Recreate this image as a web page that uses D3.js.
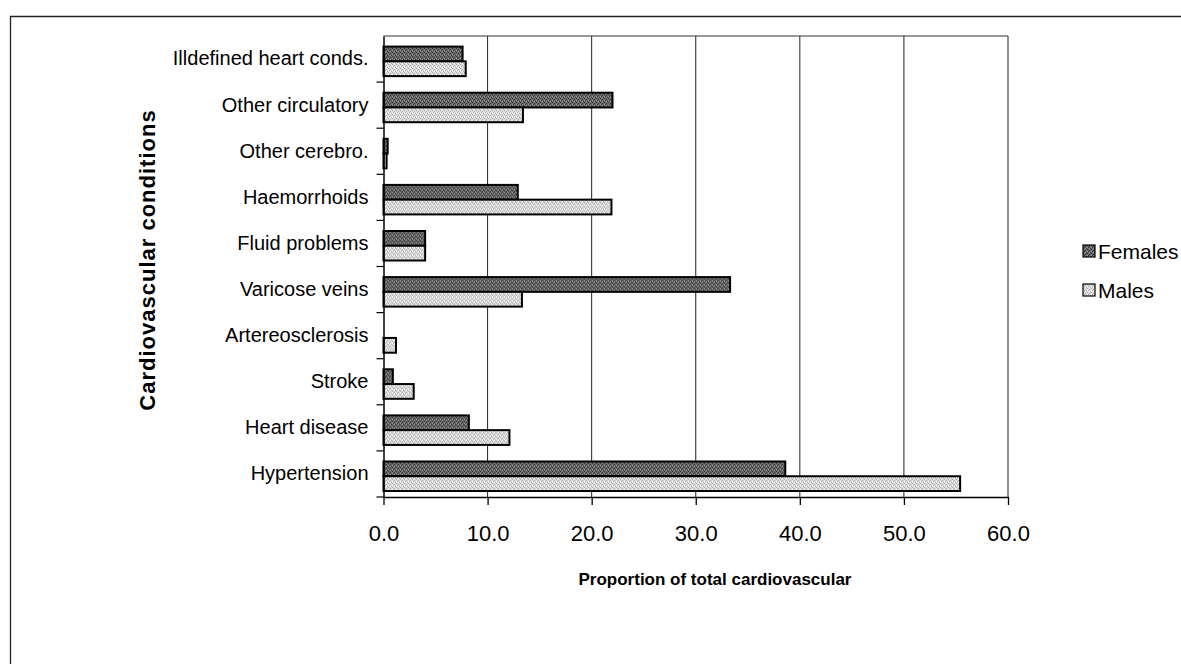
<!DOCTYPE html>
<html>
<head>
<meta charset="utf-8">
<script src="https://cdn.jsdelivr.net/npm/d3@7"></script>
<style>
  html, body { margin: 0; padding: 0; background: #fff; }
  svg { display: block; font-family: Arial, "Liberation Sans", sans-serif; }
</style>
</head>
<body>
<svg id="chart" width="1181" height="664"></svg>
<script>
// Cardiovascular conditions, share of total cardiovascular (%), by sex
const categories = [
  "Illdefined heart conds.",
  "Other circulatory",
  "Other cerebro.",
  "Haemorrhoids",
  "Fluid problems",
  "Varicose veins",
  "Artereosclerosis",
  "Stroke",
  "Heart disease",
  "Hypertension"
];
const series = ["Females", "Males"];
const females = [7.6, 22.0, 0.4, 12.9, 4.0, 33.3, 0.0, 0.9, 8.2, 38.6];
const males   = [7.9, 13.4, 0.3, 21.9, 4.0, 13.3, 1.2, 2.9, 12.1, 55.4];
const xTicks = [0, 10, 20, 30, 40, 50, 60];

const svg = d3.select("#chart");

// stipple fills for the two series
const defs = svg.append("defs");
function stipple(id, base, dot, dot2) {
  const p = defs.append("pattern")
    .attr("id", id).attr("patternUnits", "userSpaceOnUse")
    .attr("width", 4).attr("height", 4);
  p.append("rect").attr("width", 4).attr("height", 4).attr("fill", base);
  [[0,0],[2,1],[1,2],[3,3]].forEach(([x, y]) =>
    p.append("rect").attr("x", x).attr("y", y).attr("width", 1).attr("height", 1).attr("fill", dot));
  [[2,3],[0,2]].forEach(([x, y]) =>
    p.append("rect").attr("x", x).attr("y", y).attr("width", 1).attr("height", 1).attr("fill", dot2));
}
stipple("fillF", "#6c6c6c", "#2e2e2e", "#9c9c9c");
stipple("fillM", "#e0e0e0", "#a4a4a4", "#ffffff");
const fills = { Females: "url(#fillF)", Males: "url(#fillM)" };

// outer frame (runs off the right and bottom edges)
svg.append("path")
  .attr("d", "M10.5,670 L10.5,16.5 L1190,16.5")
  .attr("fill", "none").attr("stroke", "#222").attr("stroke-width", 1.3);

const plot = { left: 383.5, right: 1008, top: 36, bottom: 497 };

const x = d3.scaleLinear().domain([0, 60]).range([plot.left, plot.right]);
const y = d3.scaleBand().domain(categories).range([plot.top, plot.bottom]);
const bw = y.bandwidth();
const sub = d3.scaleBand().domain(series).range([bw * 0.23, bw * 0.87]);

// vertical gridlines
svg.append("g").selectAll("line")
  .data(xTicks.slice(1))
  .join("line")
  .attr("x1", d => x(d)).attr("x2", d => x(d))
  .attr("y1", plot.top).attr("y2", plot.bottom)
  .attr("stroke", "#222").attr("stroke-width", 1);

// top border of plot area
svg.append("line")
  .attr("x1", plot.left).attr("x2", plot.right)
  .attr("y1", plot.top).attr("y2", plot.top)
  .attr("stroke", "#333").attr("stroke-width", 1);

// bars
const rows = categories.map((c, i) => ({ c, Females: females[i], Males: males[i] }));
const groups = svg.append("g").selectAll("g")
  .data(rows).join("g")
  .attr("transform", d => `translate(0,${y(d.c)})`);
groups.selectAll("rect")
  .data(d => series.map(s => ({ s, v: d[s] })).filter(e => e.v > 0))
  .join("rect")
  .attr("x", x(0))
  .attr("y", d => sub(d.s))
  .attr("width", d => x(d.v) - x(0))
  .attr("height", sub.bandwidth())
  .attr("fill", d => fills[d.s])
  .attr("stroke", "#000").attr("stroke-width", 2);

// x axis
const xAxis = svg.append("g")
  .attr("transform", `translate(0,${plot.bottom})`)
  .call(d3.axisBottom(x).tickValues(xTicks).tickFormat(d3.format(".1f")).tickSize(8).tickSizeOuter(0));
xAxis.select(".domain").attr("stroke", "#000").attr("stroke-width", 1.5);
xAxis.selectAll(".tick line").attr("stroke", "#000").attr("stroke-width", 1.3);
xAxis.selectAll(".tick text")
  .attr("font-size", 22).attr("fill", "#000").attr("dy", 0).attr("y", 44)
  .attr("font-family", "Arial, 'Liberation Sans', sans-serif");

// y axis
const yAxis = svg.append("g")
  .attr("transform", `translate(${plot.left},0)`)
  .call(d3.axisLeft(y).tickSize(0).tickPadding(15).tickSizeOuter(0));
yAxis.select(".domain").attr("stroke", "#000").attr("stroke-width", 1.5);
yAxis.selectAll(".tick text")
  .attr("font-size", 20).attr("fill", "#000")
  .attr("font-family", "Arial, 'Liberation Sans', sans-serif");
// category boundary ticks
svg.append("g").selectAll("line")
  .data(categories)
  .join("line")
  .attr("x1", plot.left - 7).attr("x2", plot.left)
  .attr("y1", d => y(d) + bw).attr("y2", d => y(d) + bw)
  .attr("stroke", "#000").attr("stroke-width", 1.2);

// axis titles
svg.append("text")
  .attr("x", 715).attr("y", 585)
  .attr("text-anchor", "middle")
  .attr("font-size", 17).attr("font-weight", "bold")
  .text("Proportion of total cardiovascular");

svg.append("text")
  .attr("transform", "translate(155,260) rotate(-90)")
  .attr("text-anchor", "middle")
  .attr("font-size", 22).attr("font-weight", "bold")
  .attr("letter-spacing", 1)
  .text("Cardiovascular conditions");

// legend
const legend = svg.append("g");
series.forEach((s, i) => {
  const g = legend.append("g").attr("transform", `translate(1083,${245 + i * 39})`);
  g.append("rect").attr("width", 12).attr("height", 12)
    .attr("fill", fills[s]).attr("stroke", "#000").attr("stroke-width", 1.2);
  g.append("text").attr("x", 15).attr("y", 14)
    .attr("font-size", 21).attr("fill", "#000").text(s);
});
</script>
</body>
</html>
